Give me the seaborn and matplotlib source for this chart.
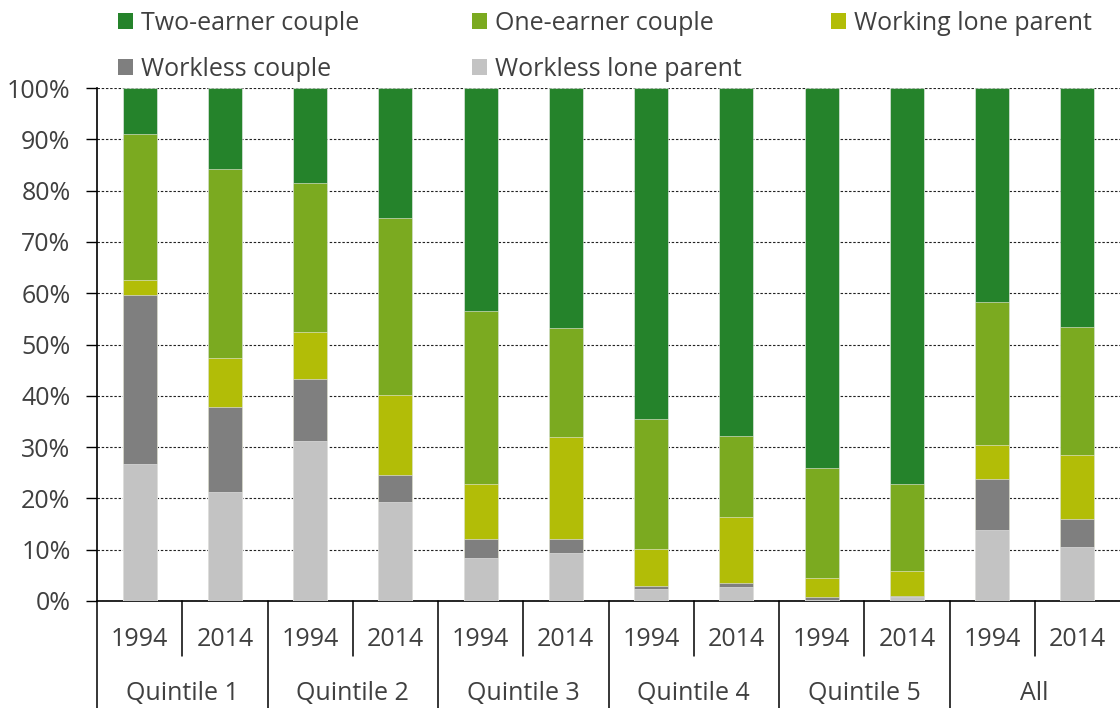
import matplotlib
matplotlib.use("Agg")
import matplotlib.pyplot as plt
import seaborn as sns
import numpy as np
from matplotlib.patches import Patch
import matplotlib.transforms as mtransforms

# ---- data ----
groups = ["Quintile 1", "Quintile 2", "Quintile 3", "Quintile 4", "Quintile 5", "All"]
years = ["1994", "2014"]
bar_ids = [f"{g} {y}" for g in groups for y in years]

workless_lone_parent = [26.8, 21.2, 31.1, 19.3, 8.4, 9.4, 2.4, 2.8, 0.2, 0.7, 13.8, 10.6]
workless_couple      = [32.9, 16.6, 12.1, 5.2, 3.7, 2.7, 0.5, 0.8, 0.5, 0.3, 10.0, 5.3]
working_lone_parent  = [2.9, 9.6, 9.2, 15.6, 10.8, 19.9, 7.2, 12.7, 3.8, 4.8, 6.7, 12.5]
one_earner_couple    = [28.5, 36.9, 29.1, 34.6, 33.6, 21.2, 25.3, 15.9, 21.4, 17.0, 27.7, 25.1]
two_earner_couple    = [8.9, 15.7, 18.5, 25.3, 43.5, 46.8, 64.6, 67.8, 74.1, 77.2, 41.8, 46.5]

series_names = ["Workless lone parent", "Workless couple", "Working lone parent",
                "One-earner couple", "Two-earner couple"]
series_vals = [workless_lone_parent, workless_couple, working_lone_parent,
               one_earner_couple, two_earner_couple]
colors = {"Two-earner couple": "#25832B", "One-earner couple": "#7BAA20",
          "Working lone parent": "#B2BD07", "Workless couple": "#7F7F7F",
          "Workless lone parent": "#C3C3C3"}

sns.set_style("white")
plt.rcParams["font.family"] = ["Open Sans", "DejaVu Sans"]
TXT = "#404040"
FS = 18

fig = plt.figure(figsize=(11.2, 7.08), dpi=100)
ax = fig.add_axes([97/1120, 1 - 601/708, 1 - 97/1120, (601 - 88)/708])

cum = np.cumsum(np.array(series_vals), axis=0)
for k in range(len(series_names) - 1, -1, -1):
    sns.barplot(x=bar_ids, y=cum[k], order=bar_ids, color=colors[series_names[k]],
                saturation=1, width=0.4, ax=ax, edgecolor="#eeeeee", linewidth=0.4,
                zorder=3)

ax.set_xlim(-0.5, len(bar_ids) - 0.5)
ax.set_ylim(0, 100)
yt = np.arange(0, 101, 10)
ax.set_yticks(yt)
ax.set_yticklabels([f"{v}%" for v in yt], fontsize=FS, color=TXT)
ax.yaxis.grid(True, linestyle=(0, (2.2, 1.6)), color="#222222", linewidth=0.8, zorder=0)
ax.xaxis.grid(False)
ax.set_axisbelow(True)
for s in ["top", "right"]:
    ax.spines[s].set_visible(False)
for s in ["left", "bottom"]:
    ax.spines[s].set_color("#000000")
    ax.spines[s].set_linewidth(1.2)
ax.tick_params(axis="y", which="major", left=True, length=8, width=1, color="#000000", pad=11)
ax.set_xticks(range(len(bar_ids)))
ax.set_xticklabels([y for g in groups for y in years], fontsize=FS, color=TXT)
ax.tick_params(axis="x", length=0, pad=18.5)
ax.set_xlabel("")
ax.set_ylabel("")

# category separators below axis
trans = mtransforms.blended_transform_factory(ax.transData, ax.transAxes)
axh = (601 - 88)
short_end = -(656 - 601) / axh
long_end = -(708 - 601) / axh - 0.01
for i in range(len(bar_ids)):
    x = i - 0.5
    end = long_end if i % 2 == 0 else short_end
    ax.plot([x, x], [0, end], transform=trans, color="#000000", linewidth=1.1,
            clip_on=False, zorder=5)
for j, g in enumerate(groups):
    ax.text(2 * j + 0.5, -(694 - 601) / axh, g, transform=trans, ha="center",
            va="center", fontsize=FS, color=TXT)

# legend in three fixed-width columns
cols = [["Two-earner couple", "Workless couple"], ["One-earner couple", "Workless lone parent"],
        ["Working lone parent"]]
xstarts = [113, 467, 826]
for xs, names in zip(xstarts, cols):
    handles = [Patch(facecolor=colors[n], edgecolor="none") for n in names]
    leg = fig.legend(handles, names, loc="upper left",
                     bbox_to_anchor=(xs / 1120, 1 - 6 / 708), frameon=False,
                     fontsize=FS, handlelength=0.6, handleheight=0.6,
                     handletextpad=0.32, labelspacing=0.84, borderaxespad=0,
                     borderpad=0.2)
    for t in leg.get_texts():
        t.set_color(TXT)

fig.savefig("out.png", dpi=100)
